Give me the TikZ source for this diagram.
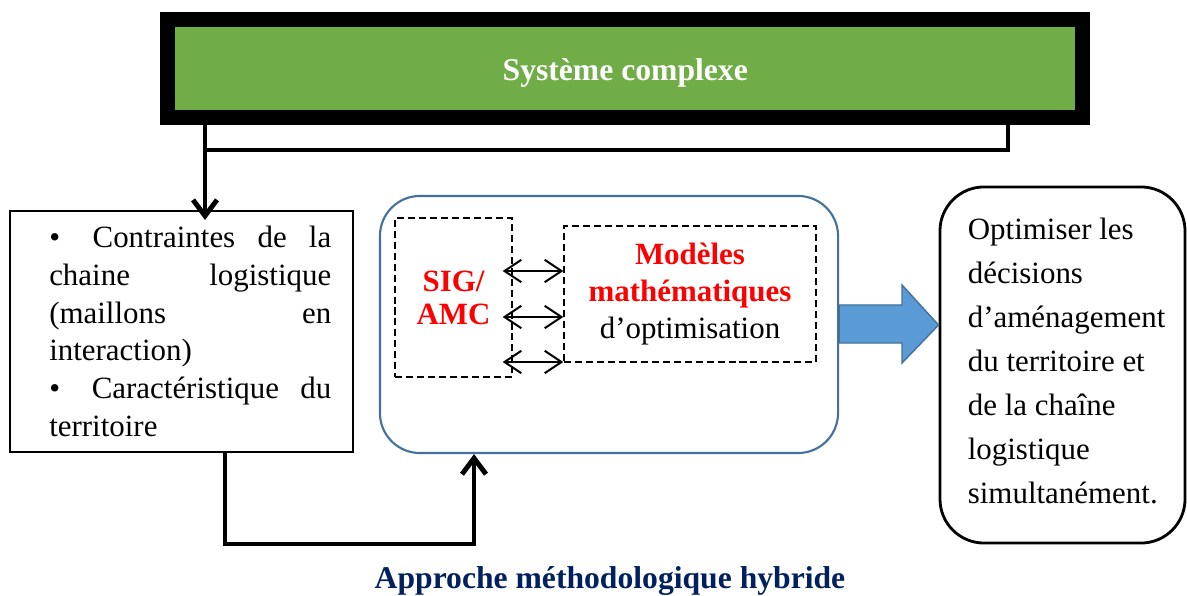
\documentclass[tikz,border=0pt]{standalone}
\usepackage{fontspec}
\setmainfont{Liberation Serif}
\usetikzlibrary{arrows.meta,calc}

\definecolor{sysgreen}{HTML}{70AD47}
\definecolor{midblue}{HTML}{41719C}
\definecolor{arrowblue}{HTML}{5B9BD5}
\definecolor{navy}{HTML}{002060}

\begin{document}
\begin{tikzpicture}[x=0.025cm,y=-0.025cm,
  txt/.style={font=\fontsize{22}{26.8}\selectfont},
  conn/.style={line width=3.5pt},
  tip/.style={-{Straight Barb[length=4mm,width=6mm]}},
  dashbox/.style={draw,line width=1pt,dash pattern=on 5pt off 2.8pt,inner sep=0pt},
  twoway/.style={line width=1.4pt,{Straight Barb[length=4.2mm,width=5.6mm]}-{Straight Barb[length=4.2mm,width=5.6mm]}}]
  \useasboundingbox (0,0) rectangle (1187,596);
  % the complex system, on top
  \node[draw=black,line width=10.6pt,fill=sysgreen,minimum width=22.86cm,minimum height=2.44cm,inner sep=0pt,
        text height=17pt,text depth=0pt,text=white,font=\bfseries\fontsize{22.5}{26}\selectfont] (sys) at (625.25,68.25) {Système complexe};
  % constraints, on the left
  \node[draw,line width=1.4pt,minimum width=8.575cm,minimum height=6.025cm,inner sep=0pt] (ctr) at (181.5,331.5) {};
  \node[txt,text width=7.05cm,align=left,inner sep=0pt,anchor=west] (ctrtext) at ($(ctr.west)+(40,0)$)
    {\makebox[7.05cm][s]{• \hfill Contraintes\hfill de\hfill la}\\
     \makebox[7.05cm][s]{chaine\hfill logistique}\\
     \makebox[7.05cm][s]{(maillons\hfill en}\\
     interaction)\\
     \makebox[7.05cm][s]{• \hfill Caractéristique\hfill du}\\
     territoire};
  % the hybrid approach
  \node[draw=midblue,line width=1.5pt,rounded corners=1cm,minimum width=11.45cm,minimum height=6.425cm] (mid) at (609,324.5) {};
  \node[dashbox,minimum width=2.925cm,minimum height=3.975cm,align=center,text=red,
        font=\bfseries\fontsize{22}{23.4}\selectfont] (sig) at (453.5,297.5) {SIG/\\AMC};
  \node[dashbox,minimum width=6.3cm,minimum height=3.4cm,align=center,
        font=\fontsize{22}{26.6}\selectfont] (mod) at (690,294)
    {\textcolor{red}{\textbf{Modèles}}\\\textcolor{red}{\textbf{mathématiques}}\\d’optimisation};
  \foreach \y in {271,317,362}
    \draw[twoway] ($(sig.east |- 0,\y)+(-10,0)$) -- (mod.west |- 0,\y);
  % the result, on the right
  \node[draw,line width=2pt,rounded corners=1.1cm,minimum width=6.125cm,minimum height=8.9cm] (res) at (1062.5,365) {};
  \node[font=\fontsize{22}{31.3}\selectfont,align=left,inner sep=0pt,anchor=west] (restext) at ($(res.west)+(29,-4)$)
    {Optimiser les\\décisions\\d’aménagement\\du territoire et\\de la chaîne\\logistique\\simultanément.};
  % big blue arrow
  \filldraw[fill=arrowblue,draw=midblue,line width=1pt] (mid.east |- 0,305) -- (902,305) -- (902,285)
    -- (res.west |- 0,325) -- (902,363) -- (902,343) -- (mid.east |- 0,343) -- cycle;
  % connectors
  \draw[conn] (sys.south -| 1008,0) |- (205,150);
  \draw[conn,tip] (sys.south -| 205,0) -- ($(ctr.north -| 205,0)+(0,10)$);
  \draw[conn,tip] (ctr.south -| 225,0) |- (474,544) -- (mid.south -| 474,0);
  \node[font=\bfseries\fontsize{22.5}{26}\selectfont,text=navy] (hyb) at (610,581) {Approche méthodologique hybride};
\end{tikzpicture}
\end{document}
